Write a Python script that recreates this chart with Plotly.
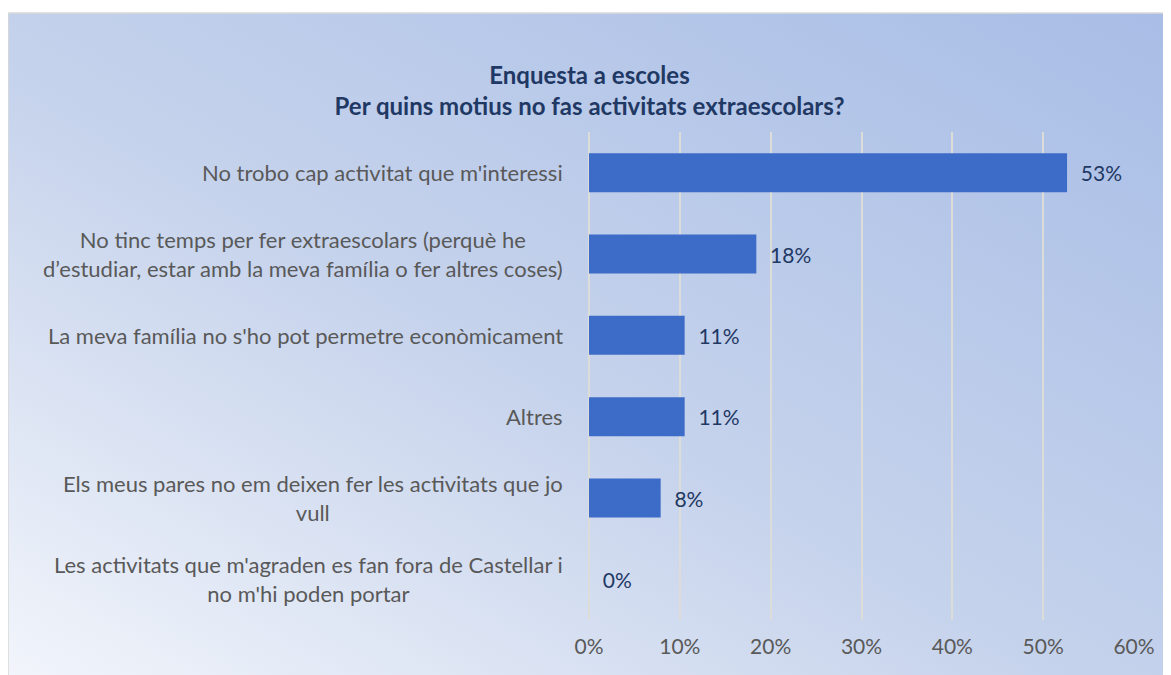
import base64
import plotly.graph_objects as go

# --- DATA ---
CATEGORIES = [
    "No trobo cap activitat que m'interessi",
    "No tinc temps per fer extraescolars (perquè he<br>d’estudiar, estar amb la meva família o fer altres coses)",
    "La meva família no s'ho pot permetre econòmicament",
    "Altres",
    "Els meus pares no em deixen fer les activitats que jo<br>vull",
    "Les activitats que m'agraden es fan fora de Castellar i<br>no m'hi poden portar",
]
SHARES = [0.5263, 0.1842, 0.1053, 0.1053, 0.0789, 0.0]
X_TICKS = [0, 0.1, 0.2, 0.3, 0.4, 0.5, 0.6]

TITLE = "Enquesta a escoles<br>Per quins motius no fas activitats extraescolars?"

# --- STYLE ---
FONT = "Lato"
NAVY = "#1f3864"
GREY = "#595959"
BAR = "#3d6bc8"
GRID = "#dcdcd8"

# page has an 8px body margin, so figure coords = screen coords - 8
W, H = 1171, 675
L, R, T, B = 581, 45, 124, 63
PW, PH = W - L - R, H - T - B


def px_to_paper(x, y):
    return (x - L) / PW, (H - B - y) / PH


# gradient background as an inline svg
svg = """<svg xmlns='http://www.w3.org/2000/svg' width='100' height='100' preserveAspectRatio='none'>
<defs><linearGradient id='g' x1='0' y1='1' x2='1' y2='0'>
<stop offset='0' stop-color='#f2f5fb'/>
<stop offset='0.45' stop-color='#c6d3ec'/>
<stop offset='1' stop-color='#a8bde6'/>
</linearGradient></defs>
<rect width='100' height='100' fill='url(#g)'/></svg>"""
bg_src = "data:image/svg+xml;base64," + base64.b64encode(svg.encode()).decode()

x0, y0 = px_to_paper(0, 5)
x1, y1 = px_to_paper(W, H)

fig = go.Figure()

fig.add_trace(go.Bar(
    x=SHARES, y=CATEGORIES, orientation="h",
    marker=dict(color=BAR, line=dict(width=0)),
    width=0.48,
    texttemplate="  %{x:.0%}", textposition="outside",
    textfont=dict(family=FONT, size=21, color=NAVY),
    cliponaxis=False, hoverinfo="skip",
))

# category labels, centred lines like the original
for cat in CATEGORIES:
    fig.add_annotation(
        x=-24 / PW, xref="paper", y=cat, yref="y",
        text=cat, showarrow=False, xanchor="right", align="center",
        font=dict(family=FONT, size=22, color=GREY),
    )

fig.update_layout(
    width=W, height=H,
    margin=dict(l=L, r=R, t=T, b=B),
    paper_bgcolor="white", plot_bgcolor="rgba(0,0,0,0)",
    showlegend=False,
    title=dict(
        text=f"<b>{TITLE}</b>", xref="container", x=581.5 / W,
        yref="container", y=1 - 76 / H, yanchor="top", xanchor="center",
        font=dict(family=FONT, size=24, color=NAVY),
    ),
    xaxis=dict(
        range=[0, 0.6], tickvals=X_TICKS, tickformat=".0%",
        showgrid=True, gridcolor=GRID, gridwidth=1.5,
        zeroline=True, zerolinecolor=GRID, zerolinewidth=1.5,
        showline=False, ticks="", fixedrange=True, ticklabelstandoff=12,
        tickfont=dict(family=FONT, size=21, color=GREY),
    ),
    yaxis=dict(
        categoryorder="array", categoryarray=CATEGORIES[::-1],
        showticklabels=False, showgrid=False, ticks="", showline=False,
    ),
    images=[dict(
        source=bg_src, xref="paper", yref="paper",
        x=x0, y=y0, sizex=x1 - x0, sizey=y0 - y1,
        xanchor="left", yanchor="top", sizing="stretch", layer="below",
    )],
    shapes=[dict(
        type="rect", xref="paper", yref="paper",
        x0=x0, y0=y1, x1=x1, y1=y0,
        line=dict(color="#d9d9d9", width=1.5), fillcolor="rgba(0,0,0,0)",
    )],
)

fig.write_html("out.html")
